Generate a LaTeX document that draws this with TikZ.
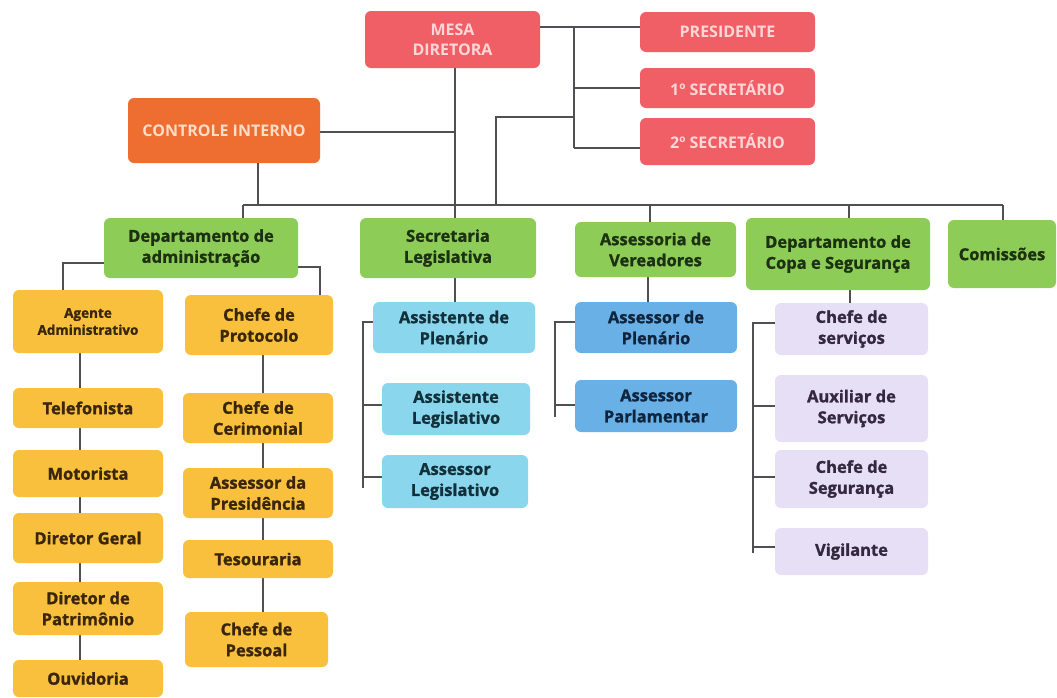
\documentclass[tikz,border=0pt]{standalone}
\usepackage{fontspec}
\setmainfont{Open Sans}[BoldFeatures={FakeBold=1.2}]
\newfontfamily\hdfont{Open Sans}
\usetikzlibrary{backgrounds}
\definecolor{redbg}{RGB}{240,95,102}
\definecolor{redtx}{RGB}{255,214,214}
\definecolor{orbg}{RGB}{237,110,48}
\definecolor{ortx}{RGB}{255,220,200}
\definecolor{grbg}{RGB}{142,204,88}
\definecolor{grtx}{RGB}{28,48,18}
\definecolor{yebg}{RGB}{249,192,62}
\definecolor{yetx}{RGB}{58,38,10}
\definecolor{cybg}{RGB}{138,214,236}
\definecolor{cytx}{RGB}{18,48,58}
\definecolor{blbg}{RGB}{104,176,230}
\definecolor{bltx}{RGB}{16,36,60}
\definecolor{lvbg}{RGB}{231,223,245}
\definecolor{lvtx}{RGB}{52,40,62}
\definecolor{linegray}{RGB}{80,80,84}
\begin{document}
\begin{tikzpicture}[x=1pt,y=-1pt,
  box/.style={rounded corners=6pt, inner sep=2pt, align=center, draw=none,
    font=\bfseries\fontsize{16.5}{21}\selectfont},
  redbox/.style={box, fill=redbg, text=redtx, font=\hdfont\bfseries\fontsize{16}{20}\selectfont},
  orbox/.style={box, fill=orbg, text=ortx, font=\hdfont\bfseries\fontsize{16}{20}\selectfont},
  grbox/.style={box, fill=grbg, text=grtx},
  yebox/.style={box, fill=yebg, text=yetx},
  cybox/.style={box, fill=cybg, text=cytx},
  blbox/.style={box, fill=blbg, text=bltx},
  lvbox/.style={box, fill=lvbg, text=lvtx},
  conn/.style={draw=linegray, line width=1.3pt}]
\useasboundingbox (0,0) rectangle (1057,697);

\coordinate (vA) at (574,27);
\coordinate (vB) at (574,148);
\coordinate (bus) at (0,205);
\coordinate (k1) at (496,117);
\coordinate (cM) at (455,132);

% ---------- top level ----------
\node[redbox, minimum width=175pt, minimum height=57pt] (mesa) at (452.5,39.5) {MESA\\DIRETORA};
\node[redbox, minimum width=175pt, minimum height=40pt] (pres) at (727.5,32) {PRESIDENTE};
\node[redbox, minimum width=175pt, minimum height=40pt] (sec1) at (727.5,88) {1º SECRETÁRIO};
\node[redbox, minimum width=175pt, minimum height=47pt] (sec2) at (727.5,141.5) {2º SECRETÁRIO};
\node[orbox, minimum width=192pt, minimum height=65pt] (ci) at (224,130.5) {CONTROLE INTERNO};

% ---------- second level ----------
\node[grbox, minimum width=194pt, minimum height=60pt] (adm) at (201,248) {Departamento de\\administração};
\node[grbox, minimum width=176pt, minimum height=60pt] (secl) at (448,248) {Secretaria\\Legislativa};
\node[grbox, minimum width=161pt, minimum height=55pt] (asv) at (655.5,249.5) {Assessoria de\\Vereadores};
\node[grbox, minimum width=184pt, minimum height=72pt] (copa) at (838,254) {Departamento de\\Copa e Segurança};
\node[grbox, minimum width=108pt, minimum height=68pt] (com) at (1002,254) {Comissões};

% ---------- administração, left column ----------
\node[yebox, minimum width=150pt, minimum height=63pt, font=\bfseries\fontsize{13.5}{17}\selectfont] (ag) at (88,321.5) {Agente\\Administrativo};
\node[yebox, minimum width=150pt, minimum height=40pt] (tel) at (88,408) {Telefonista};
\node[yebox, minimum width=150pt, minimum height=47pt] (mot) at (88,473.5) {Motorista};
\node[yebox, minimum width=150pt, minimum height=50pt] (dg) at (88,538) {Diretor Geral};
\node[yebox, minimum width=150pt, minimum height=53pt] (dp) at (88,608.5) {Diretor de\\Patrimônio};
\node[yebox, minimum width=150pt, minimum height=37pt] (ouv) at (88,678.5) {Ouvidoria};

% ---------- administração, right column ----------
\node[yebox, minimum width=148pt, minimum height=60pt] (cp) at (259,325) {Chefe de\\Protocolo};
\node[yebox, minimum width=150pt, minimum height=50pt] (cc) at (258,418) {Chefe de\\Cerimonial};
\node[yebox, minimum width=150pt, minimum height=50pt] (ap) at (258,493) {Assessor da\\Presidência};
\node[yebox, minimum width=150pt, minimum height=38pt] (tes) at (258,559) {Tesouraria};
\node[yebox, minimum width=143pt, minimum height=55pt] (cpe) at (256.5,639.5) {Chefe de\\Pessoal};

% ---------- secretaria legislativa ----------
\node[cybox, minimum width=162pt, minimum height=51pt] (asp) at (454,327.5) {Assistente de\\Plenário};
\node[cybox, minimum width=148pt, minimum height=52pt] (asl) at (456,409) {Assistente\\Legislativo};
\node[cybox, minimum width=146pt, minimum height=53pt] (ssl) at (455,481.5) {Assessor\\Legislativo};

% ---------- assessoria de vereadores ----------
\node[blbox, minimum width=162pt, minimum height=51pt] (sp) at (656,327.5) {Assessor de\\Plenário};
\node[blbox, minimum width=162pt, minimum height=52pt] (spa) at (656,406) {Assessor\\Parlamentar};

% ---------- copa e segurança ----------
\node[lvbox, minimum width=153pt, minimum height=52pt] (cs) at (851.5,329) {Chefe de\\serviços};
\node[lvbox, minimum width=153pt, minimum height=67pt] (aux) at (851.5,408.5) {Auxiliar de\\Serviços};
\node[lvbox, minimum width=153pt, minimum height=58pt] (cse) at (851.5,479) {Chefe de\\Segurança};
\node[lvbox, minimum width=153pt, minimum height=47pt] (vig) at (851.5,551.5) {Vigilante};

% ---------- connectors ----------
\begin{scope}[on background layer]
% mesa to board members
\draw[conn] (vA -| mesa.east) -- (vA -| pres.west);
\draw[conn] (vA) -- (vB);
\draw[conn] (vA |- sec1.west) -- (sec1.west);
\draw[conn] (vB) -- (vB -| sec2.west);
% mesa trunk and controle interno
\draw[conn] (mesa.south -| cM) -- (secl.north -| cM);
\draw[conn] (ci.east |- cM) -- (cM);
\draw[conn] (ci.south -| 258,0) -- (bus -| 258,0);
% link from board bracket to bus
\draw[conn] (k1 -| vA) -- (k1) -- (bus -| k1);
% bus
\draw[conn] (bus -| 243,0) -- (bus -| 1003,0);
\draw[conn] (bus -| 243,0) -- (adm.north -| 243,0);
\draw[conn] (bus -| 650,0) -- (asv.north -| 650,0);
\draw[conn] (bus -| 849,0) -- (copa.north -| 849,0);
\draw[conn] (bus -| 1003,0) -- (com.north -| 1003,0);

% administração branches
\draw[conn] (adm.west |- 0,263) -- (63,263) -- (ag.north -| 63,0);
\draw[conn] (adm.east |- 0,267) -- (320,267) -- (320,296);
\draw[conn] (ag.south -| 80,0) -- (tel.north -| 80,0);
\draw[conn] (tel.south -| 80,0) -- (mot.north -| 80,0);
\draw[conn] (mot.south -| 80,0) -- (dg.north -| 80,0);
\draw[conn] (dg.south -| 80,0) -- (dp.north -| 80,0);
\draw[conn] (dp.south -| 80,0) -- (ouv.north -| 80,0);
\draw[conn] (cp.south -| 263,0) -- (cc.north -| 263,0);
\draw[conn] (cc.south -| 263,0) -- (ap.north -| 263,0);
\draw[conn] (ap.south -| 263,0) -- (tes.north -| 263,0);
\draw[conn] (tes.south -| 263,0) -- (cpe.north -| 263,0);

% secretaria branches
\draw[conn] (secl.south -| 455,0) -- (asp.north -| 455,0);
\draw[conn] (asp.west |- 0,322) -- (363,322) -- (363,488);
\draw[conn] (363,405) -- (asl.west |- 0,405);
\draw[conn] (363,477) -- (ssl.west |- 0,477);

% assessoria branches
\draw[conn] (asv.south -| 648,0) -- (sp.north -| 648,0);
\draw[conn] (sp.west |- 0,322) -- (555,322) -- (555,417);
\draw[conn] (555,405) -- (spa.west |- 0,405);

% copa branches
\draw[conn] (copa.south -| 850,0) -- (cs.north -| 850,0);
\draw[conn] (cs.west |- 0,323) -- (753,323) -- (753,553);
\draw[conn] (753,406) -- (aux.west |- 0,406);
\draw[conn] (753,477) -- (cse.west |- 0,477);
\draw[conn] (753,547) -- (vig.west |- 0,547);
\end{scope}
\end{tikzpicture}
\end{document}
